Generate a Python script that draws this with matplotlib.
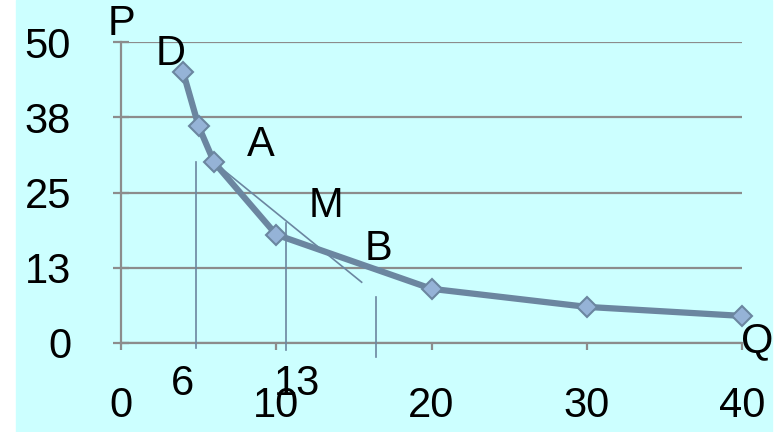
import matplotlib.pyplot as plt
from matplotlib.patches import Rectangle

# demand curve P = f(Q)
quantity = [4, 5, 6, 10, 20, 30, 40]
price = [45, 36, 30, 18, 9, 6, 4.5]

x_ticks = [0, 10, 20, 30, 40]
y_ticks = [0, 12.5, 25, 37.5, 50]
y_labels = ['0', '13', '25', '38', '50']

# tangent at A and the guide drops
tangent_q = [6, 15.5]
tangent_p = [30, 10.1]
drop_q = [4.84, 10.65, 16.45]
drop_top = [30.1, 19.9, 7.6]
drop_bottom = [-0.8, -1.2, -2.3]

# letters on the curve
point_names = ['D', 'A', 'M', 'B']
point_q = [3.2, 9.0, 13.2, 16.6]
point_p = [48, 32.9, 22.8, 15.6]

# quantities written under the axis
qty_labels = ['6', '13']
qty_label_q = [3.95, 11.35]

font = ['Liberation Sans', 'DejaVu Sans']
plt.rcParams['font.family'] = font

line_col = '#6b86a0'
grid_col = '#8c8c8c'

fig = plt.figure(figsize=(7.77, 4.32), dpi=100, facecolor='white')
fig.patches.append(Rectangle((16 / 777, 0), (772 - 16) / 777, 1,
                             transform=fig.transFigure, color='#ccffff', zorder=-10))

ax = fig.add_axes([121 / 777, 1 - 343 / 432, (742 - 121) / 777, (343 - 42) / 432])
ax.set_zorder(1)
ax.set_facecolor('none')
ax.set_xlim(0, 40)
ax.set_ylim(0, 50)

for s in ['top', 'right']:
    ax.spines[s].set_visible(False)
for s in ['left', 'bottom']:
    ax.spines[s].set_color(grid_col)
    ax.spines[s].set_linewidth(1.6)

ax.set_yticks(y_ticks)
ax.set_yticklabels(y_labels)
ax.set_xticks(x_ticks)
ax.yaxis.grid(True, color=grid_col, linewidth=1.6)
ax.set_axisbelow(True)
ax.tick_params(axis='y', direction='inout', length=12, width=1.6, color=grid_col,
               labelsize=30, pad=30)
ax.tick_params(axis='x', direction='out', length=5, width=1.6, color=grid_col,
               labelsize=30, pad=26)

# guide lines
ax.plot(tangent_q, tangent_p, color=line_col, linewidth=1.2, zorder=3)
for q, top, bot in zip(drop_q, drop_top, drop_bottom):
    ax.plot([q, q], [bot, top], color=line_col, linewidth=1.2, zorder=3, clip_on=False)

# demand curve
ax.plot(quantity, price, color=line_col, linewidth=4.5, marker='D', markersize=10,
        markerfacecolor='#95b3d7', markeredgecolor=line_col, markeredgewidth=1.5,
        zorder=4, clip_on=False)

for name, q, p in zip(point_names, point_q, point_p):
    ax.text(q, p, name, fontsize=30, ha='center', va='center', zorder=5)

for lab, q in zip(qty_labels, qty_label_q):
    ax.text(q, -6.8, lab, fontsize=30, ha='center', va='center', clip_on=False)

ax.text(0.06, 53, 'P', fontsize=30, ha='center', va='center', clip_on=False)
ax.text(41, 0.3, 'Q', fontsize=30, ha='center', va='center', clip_on=False)

fig.savefig('out.png', dpi=100, facecolor=fig.get_facecolor())
